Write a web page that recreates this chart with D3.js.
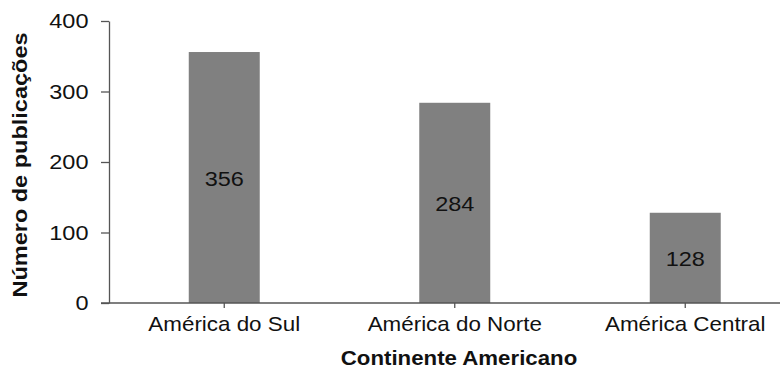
<!DOCTYPE html>
<html>
<head>
<meta charset="utf-8">
<script src="https://cdn.jsdelivr.net/npm/d3@7"></script>
<style>
  html, body { margin: 0; padding: 0; background: #fff; }
  svg text { font-family: "Liberation Sans", Arial, sans-serif; fill: #111; }
</style>
</head>
<body>
<svg id="chart" width="780" height="369"></svg>
<script>
// Publications per American region
const categories = ["América do Sul", "América do Norte", "América Central"];
const publications = [356, 284, 128];
const yTicks = [0, 100, 200, 300, 400];
const xTitle = "Continente Americano";
const yTitle = "Número de publicações";

const svg = d3.select("#chart");
const axisColor = "#555";
const textStretch = 1.12;

const y = d3.scaleLinear().domain([0, 400]).range([303, 21]);
const x = d3.scaleBand()
  .domain(categories)
  .range([109, 800.5])
  .paddingInner(0.692)
  .paddingOuter(0.346);

// Bars
svg.append("g").selectAll("rect")
  .data(categories)
  .join("rect")
  .attr("x", d => x(d))
  .attr("width", x.bandwidth())
  .attr("y", (d, i) => y(publications[i]))
  .attr("height", (d, i) => y(0) - y(publications[i]))
  .attr("fill", "#808080");

// Value labels at the middle of each bar
svg.append("g").selectAll("text")
  .data(categories)
  .join("text")
  .attr("transform", (d, i) =>
    `translate(${x(d) + x.bandwidth() / 2},${(y(publications[i]) + y(0)) / 2 + 1.5}) scale(${textStretch},1)`)
  .attr("text-anchor", "middle")
  .attr("dominant-baseline", "central")
  .style("font-size", "21px")
  .text((d, i) => publications[i]);

// Y axis
const gy = svg.append("g")
  .attr("transform", "translate(109,0)")
  .call(d3.axisLeft(y).tickValues(yTicks).tickSize(8).tickSizeOuter(0));
gy.select(".domain").attr("stroke", axisColor).attr("stroke-width", 1.3);
gy.selectAll(".tick line").attr("stroke", axisColor).attr("stroke-width", 1.3);
gy.selectAll(".tick text")
  .attr("x", null)
  .attr("transform", `translate(-20.5,0) scale(${textStretch},1)`)
  .attr("text-anchor", "end")
  .style("font-size", "21px")
  .style("font-family", "Liberation Sans, Arial, sans-serif")
  .attr("fill", "#111");

// X axis
const gx = svg.append("g")
  .attr("transform", `translate(0,${y(0)})`)
  .call(d3.axisBottom(x).tickSize(5).tickSizeOuter(0));
gx.select(".domain").remove();
gx.append("line")
  .attr("x1", 101).attr("x2", 780)
  .attr("stroke", axisColor).attr("stroke-width", 1.3);
gx.selectAll(".tick line").attr("stroke", axisColor).attr("stroke-width", 1.3);
gx.selectAll(".tick text")
  .attr("y", null).attr("dy", null)
  .attr("transform", `translate(0,28) scale(${textStretch},1)`)
  .attr("text-anchor", "middle")
  .style("font-size", "20px")
  .style("font-family", "Liberation Sans, Arial, sans-serif")
  .attr("fill", "#111");

// Axis titles
svg.append("text")
  .attr("transform", "translate(459,365) scale(1.06,1)")
  .attr("text-anchor", "middle")
  .style("font-size", "21px")
  .style("font-weight", "bold")
  .text(xTitle);

svg.append("text")
  .attr("transform", `translate(27,165) rotate(-90) scale(${textStretch},1)`)
  .attr("text-anchor", "middle")
  .style("font-size", "21px")
  .style("font-weight", "bold")
  .text(yTitle);
</script>
</body>
</html>
